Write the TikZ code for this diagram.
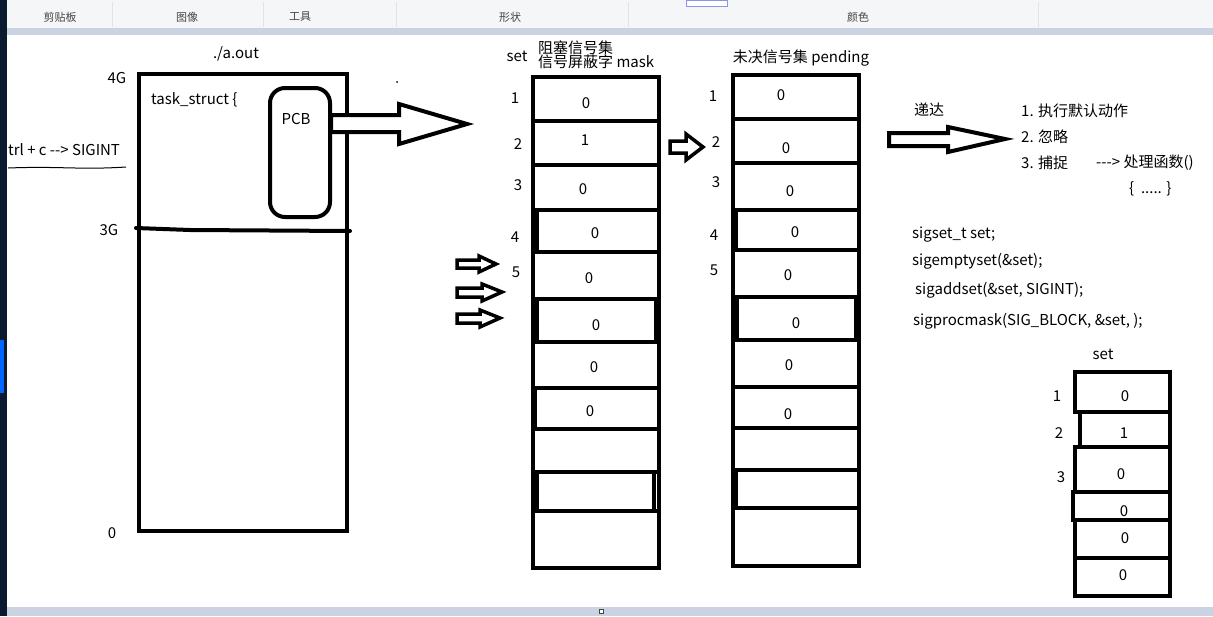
\documentclass[tikz,border=0pt]{standalone}
\usepackage{fontspec}
\setmainfont{Noto Sans CJK SC}
\definecolor{ribbon}{HTML}{F5F6F7}
\definecolor{ribline}{HTML}{E1E3E6}
\definecolor{barblue}{HTML}{C9D3E2}
\definecolor{darkstrip}{HTML}{0B1A2E}
\definecolor{uitext}{HTML}{444444}
\newcommand\hy{\mbox{-}}
\begin{document}
\begin{tikzpicture}[x=1pt,y=-1pt,
  lab/.style={font=\fontsize{15}{17}\selectfont, inner sep=0pt},
  uilab/.style={font=\fontsize{11}{13}\selectfont, inner sep=0pt, text=uitext},
  thick box/.style={draw, line width=4pt},
  hollow/.style={draw, line width=4pt, fill=white, line join=miter},
  cellbox/.style={draw, line width=4pt}]
\useasboundingbox (0,0) rectangle (1213,616);
\fill[white] (0,0) rectangle (1213,616);
% ---- window chrome ----
\fill[ribbon] (0,0) rectangle (1213,28);
\fill[barblue] (0,28) rectangle (1213,35);
\foreach \xx in {112,263,396,628,1038} \draw[ribline, line width=1pt] (\xx,2) -- (\xx,27);
\fill[white] (686,0) rectangle (727,6);
\draw[barblue!70!blue, line width=0.8pt] (686,0) rectangle (727,6);
\node[uilab] (ui1) at (60,17) {剪贴板};
\node[uilab] (ui2) at (187,17) {图像};
\node[uilab] (ui3) at (300,17) {工具};
\node[uilab] (ui4) at (510,17) {形状};
\node[uilab] (ui5) at (858,17) {颜色};
\fill[barblue] (0,607) rectangle (1213,616);
\draw[uitext, fill=white, line width=0.6pt] (599,609) rectangle (603,613);
\fill[darkstrip] (0,0) rectangle (7,616);
\fill[blue!60!cyan] (0,340) rectangle (4,393);
% ---- process memory ----
\node[lab] (aout) at (236,54) {./a.out};
\node[lab] (g4) at (117,78) {4G};
\node[lab] (g3) at (109,230) {3G};
\node[lab] (g0) at (112,533) {0};
\draw[thick box] (139,74) rectangle (347,531);
\draw[line width=4pt, line cap=round] (136,228) -- (190,230) -- (350,231);
\node[lab, anchor=west] (ts) at (151,100) {task\_struct \{};
\node[draw, line width=4pt, rounded corners=15pt, minimum width=60pt, minimum height=129pt, inner sep=0pt] (pcb) at (300,152.5) {};
\node[lab] (pcbt) at (296,119) {PCB};
\node[lab, anchor=west] (ctrl) at (8,150) {trl + c \hy\hy> SIGINT};
\draw[line width=1pt] (8,168) .. controls (60,166) and (80,170) .. (126,167);
\fill (397,82) circle (1pt);
% big arrow from PCB
\draw[hollow] (331,115) -- (399,115) -- (399,104) -- (467,124) -- (399,144) -- (399,132) -- (331,132) -- cycle;
% ---- mask column ----
\node[lab] (mset) at (517,56) {set};
\node[lab, anchor=west] (mt1) at (538,48) {阻塞信号集};
\node[lab, anchor=west] (mt2) at (538,62) {信号屏蔽字 mask};
\foreach \ya/\yb/\xa/\xb in {77/121/533/659, 121/165/533/659, 165/210/533/659, 210/252/537/659,
  252/299/533/659, 299/342/537/656, 342/388/533/659, 388/429/535/659, 429/472/533/659,
  472/511/537/654, 511/568/533/659}
  \draw[cellbox] (\xa,\ya) rectangle (\xb,\yb);
\draw[cellbox] (533,77) rectangle (659,568);
\node[lab] (m1) at (586,103) {0};
\node[lab] (m2) at (585,140) {1};
\node[lab] (m3) at (583,189) {0};
\node[lab] (m4) at (595,233) {0};
\node[lab] (m5) at (589,278) {0};
\node[lab] (m6) at (596,325) {0};
\node[lab] (m7) at (594,367) {0};
\node[lab] (m8) at (590,411) {0};
\node[lab] (ml1) at (515,98) {1};
\node[lab] (ml2) at (518,144) {2};
\node[lab] (ml3) at (518,185) {3};
\node[lab] (ml4) at (515,237) {4};
\node[lab] (ml5) at (516,272) {5};
% three small arrows
\draw[hollow, line width=3.5pt] (457,260) -- (479,260) -- (479,256) -- (496,264) -- (479,272) -- (479,268) -- (457,268) -- cycle;
\draw[hollow, line width=3.5pt] (457,288) -- (482,288) -- (482,284) -- (502,292) -- (482,301) -- (482,297) -- (457,297) -- cycle;
\draw[hollow, line width=3.5pt] (457,314) -- (480,314) -- (480,310) -- (500,318) -- (480,327) -- (480,323) -- (457,323) -- cycle;
% arrow between columns
\draw[hollow, line width=3.5pt] (670,141) -- (686,141) -- (686,134) -- (703,147) -- (686,160) -- (686,153) -- (670,153) -- cycle;
% ---- pending column ----
\node[lab] (pt) at (801,58) {未决信号集 pending};
\foreach \ya/\yb/\xa/\xb in {75/119/733/859, 119/163/733/859, 163/210/733/859, 210/250/736/859,
  250/297/733/859, 297/340/737/856, 340/387/733/859, 387/428/733/859, 428/470/733/859,
  470/508/736/859, 508/566/733/859}
  \draw[cellbox] (\xa,\ya) rectangle (\xb,\yb);
\draw[cellbox] (733,75) rectangle (859,566);
\node[lab] (p1) at (781,95) {0};
\node[lab] (p2) at (786,148) {0};
\node[lab] (p3) at (790,191) {0};
\node[lab] (p4) at (795,232) {0};
\node[lab] (p5) at (788,275) {0};
\node[lab] (p6) at (796,323) {0};
\node[lab] (p7) at (789,365) {0};
\node[lab] (p8) at (788,414) {0};
\node[lab] (pl1) at (713,96) {1};
\node[lab] (pl2) at (716,142) {2};
\node[lab] (pl3) at (716,182) {3};
\node[lab] (pl4) at (714,235) {4};
\node[lab] (pl5) at (714,270) {5};
% delivery arrow
\draw[hollow] (889,133) -- (948,133) -- (948,127) -- (1005,139) -- (948,152) -- (948,146) -- (889,146) -- cycle;
\node[lab] (dd) at (929,110) {递达};
\node[lab, anchor=west] (a1) at (1021,111) {1. 执行默认动作};
\node[lab, anchor=west] (a2) at (1021,137) {2. 忽略};
\node[lab, anchor=west] (a3) at (1021,163) {3. 捕捉};
\node[lab, anchor=west] (a4) at (1096,163) {\hy\hy\hy> 处理函数()};
\node[lab, anchor=west] (a5) at (1129,189) {\{\ \ ..... \}};
% ---- code ----
\node[lab, anchor=west] (c1) at (912,235) {sigset\_t set;};
\node[lab, anchor=west] (c2) at (912,261) {sigemptyset(\&set);};
\node[lab, anchor=west] (c3) at (915,290) {sigaddset(\&set, SIGINT);};
\node[lab, anchor=west] (c4) at (913,321) {sigprocmask(SIG\_BLOCK, \&set, );};
% ---- small set ----
\node[lab] (sset) at (1103,354) {set};
\foreach \ya/\yb/\xa/\xb in {372/412/1075/1170, 412/447/1080/1170, 447/492/1075/1170,
  492/520/1073/1170, 520/558/1075/1170, 558/596/1075/1170}
  \draw[cellbox] (\xa,\ya) rectangle (\xb,\yb);
\node[lab] (s1) at (1125,396) {0};
\node[lab] (s2) at (1124,433) {1};
\node[lab] (s3) at (1121,474) {0};
\node[lab] (s4) at (1124,511) {0};
\node[lab] (s5) at (1125,538) {0};
\node[lab] (s6) at (1123,575) {0};
\node[lab] (sl1) at (1057,396) {1};
\node[lab] (sl2) at (1059,433) {2};
\node[lab] (sl3) at (1061,477) {3};
\end{tikzpicture}
\end{document}
